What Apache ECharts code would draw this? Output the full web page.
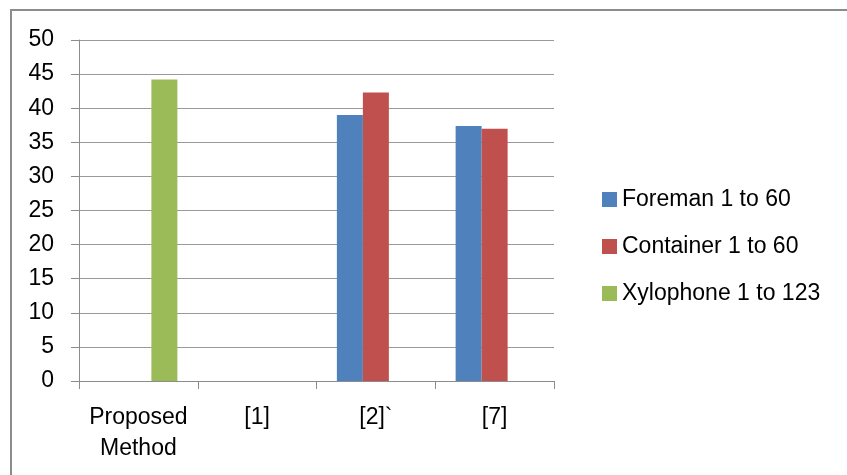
<!DOCTYPE html>
<html>
<head>
<meta charset="utf-8">
<script src="https://cdn.jsdelivr.net/npm/echarts@6/dist/echarts.min.js"></script>
<style>
  html, body { margin: 0; padding: 0; background: #fff; }
  #chart { width: 847px; height: 475px; }
</style>
</head>
<body>
<div id="chart"></div>
<script>
  // values
  var categories = ['Proposed\nMethod', '[1]', '[2]`', '[7]'];
  var foreman = [null, null, 39.0, 37.4];
  var container = [null, null, 42.3, 37.0];
  var xylophone = [44.2, null, null, null];
  var seriesNames = ['Foreman 1 to 60', 'Container 1 to 60', 'Xylophone 1 to 123'];
  var colors = ['#4F81BD', '#C0504D', '#9BBB59'];

  var font = '"Liberation Sans", sans-serif';
  var myChart = echarts.init(document.getElementById('chart'));
  var option = {
    animation: false,
    color: colors,
    textStyle: { fontFamily: font },
    graphic: [{
      type: 'rect',
      shape: { x: 11, y: 10, width: 900, height: 600 },
      style: { fill: 'none', stroke: '#8c8c8c', lineWidth: 2 }
    }],
    grid: { left: 79, right: 293, top: 40, bottom: 94, containLabel: false },
    legend: {
      orient: 'vertical',
      left: 597,
      top: 183,
      itemWidth: 15,
      itemHeight: 15,
      itemGap: 24,
      icon: 'rect',
      textStyle: { fontFamily: font, fontSize: 23, color: '#000' },
      data: seriesNames
    },
    xAxis: {
      type: 'category',
      data: categories,
      axisLine: { lineStyle: { color: '#8c8c8c', width: 1 } },
      axisTick: { show: true, interval: 0, length: 8, lineStyle: { color: '#8c8c8c' } },
      axisLabel: { interval: 0, fontFamily: font, fontSize: 23, color: '#000', margin: 21, lineHeight: 31 }
    },
    yAxis: {
      type: 'value',
      min: 0,
      max: 50,
      interval: 5,
      axisLine: { show: true, lineStyle: { color: '#8c8c8c', width: 1 } },
      axisTick: { show: true, length: 8, lineStyle: { color: '#8c8c8c' } },
      axisLabel: { fontFamily: font, fontSize: 23, color: '#000', margin: 25 },
      splitLine: { lineStyle: { color: '#9a9a9a', width: 1 } }
    },
    series: [
      { name: seriesNames[0], type: 'bar', data: foreman, barWidth: 26, barGap: '0%' },
      { name: seriesNames[1], type: 'bar', data: container, barWidth: 26, barGap: '0%' },
      { name: seriesNames[2], type: 'bar', data: xylophone, barWidth: 26, barGap: '0%' }
    ]
  };
  myChart.setOption(option);
</script>
</body>
</html>
